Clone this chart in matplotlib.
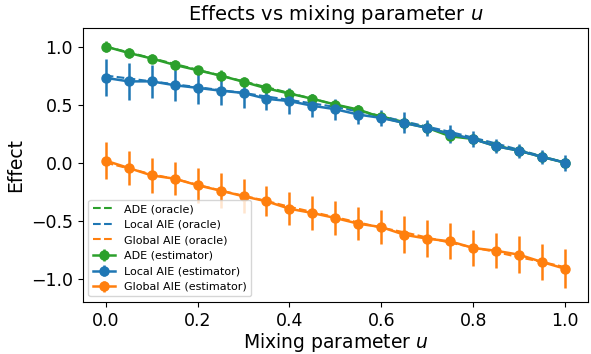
import numpy as np
import matplotlib
matplotlib.use('Agg')
import matplotlib.pyplot as plt

# Mixing parameter grid
u = [0.00, 0.05, 0.10, 0.15, 0.20, 0.25, 0.30, 0.35, 0.40, 0.45, 0.50,
     0.55, 0.60, 0.65, 0.70, 0.75, 0.80, 0.85, 0.90, 0.95, 1.00]

# Oracle curves (dashed)
ade_oracle = [1.00, 0.95, 0.90, 0.85, 0.80, 0.75, 0.70, 0.65, 0.60, 0.55, 0.50,
              0.45, 0.40, 0.35, 0.30, 0.25, 0.20, 0.15, 0.10, 0.05, 0.00]
local_oracle = [0.75, 0.725, 0.70, 0.675, 0.65, 0.625, 0.60, 0.57, 0.54, 0.51,
                0.48, 0.44, 0.40, 0.355, 0.31, 0.265, 0.215, 0.165, 0.11, 0.055,
                0.00]
global_oracle = [0.00, -0.05, -0.10, -0.14, -0.19, -0.24, -0.285, -0.33, -0.38,
                 -0.425, -0.47, -0.515, -0.56, -0.60, -0.645, -0.69, -0.73,
                 -0.77, -0.815, -0.855, -0.90]

# Estimators (mean +- error)
ade_est = [1.00, 0.945, 0.897, 0.842, 0.796, 0.75, 0.696, 0.64, 0.595, 0.55, 0.50,
           0.457, 0.39, 0.342, 0.30, 0.227, 0.204, 0.141, 0.103, 0.049, 0.00]
ade_err = [0.05, 0.04, 0.04, 0.04, 0.04, 0.05, 0.04, 0.04, 0.04, 0.04, 0.04,
           0.04, 0.04, 0.05, 0.05, 0.04, 0.04, 0.04, 0.04, 0.04, 0.04]
local_est = [0.73, 0.70, 0.70, 0.667, 0.644, 0.62, 0.60, 0.55, 0.53, 0.49, 0.46,
             0.414, 0.385, 0.342, 0.299, 0.247, 0.204, 0.141, 0.103, 0.049, 0.00]
local_err = [0.16, 0.16, 0.14, 0.135, 0.135, 0.125, 0.13, 0.10, 0.11, 0.10, 0.09,
             0.08, 0.07, 0.09, 0.07, 0.08, 0.07, 0.06, 0.06, 0.06, 0.07]
global_est = [0.017, -0.046, -0.11, -0.138, -0.195, -0.241, -0.29, -0.333, -0.397,
              -0.434, -0.477, -0.526, -0.555, -0.621, -0.655, -0.678, -0.735,
              -0.759, -0.793, -0.856, -0.914]
global_err = [0.16, 0.15, 0.15, 0.145, 0.15, 0.15, 0.145, 0.13, 0.14, 0.144, 0.144,
              0.14, 0.15, 0.16, 0.16, 0.155, 0.155, 0.15, 0.158, 0.158, 0.168]

fig = plt.figure(figsize=(5.91, 3.54), dpi=100)
ax = fig.add_axes([0.14, 0.147, 0.855, 0.774])

# Oracle lines
ax.plot(u, ade_oracle, '--', color='C2', lw=1.5, label='ADE (oracle)')
ax.plot(u, local_oracle, '--', color='C0', lw=1.5, label='Local AIE (oracle)')
ax.plot(u, global_oracle, '--', color='C1', lw=1.5, label='Global AIE (oracle)')

# Estimators with error bars
ax.errorbar(u, ade_est, yerr=ade_err, fmt='-o', color='C2', lw=1.8, ms=6.5,
            label='ADE (estimator)')
ax.errorbar(u, local_est, yerr=local_err, fmt='-o', color='C0', lw=1.8, ms=6.5,
            label='Local AIE (estimator)')
ax.errorbar(u, global_est, yerr=global_err, fmt='-o', color='C1', lw=1.8, ms=6.5,
            label='Global AIE (estimator)')

ax.set_ylim(-1.2, 1.16)
ax.set_title('Effects vs mixing parameter $u$', fontsize=14)
ax.set_xlabel('Mixing parameter $u$', fontsize=13.5, labelpad=1)
ax.set_ylabel('Effect', fontsize=13.5)
ax.tick_params(labelsize=12.5)
ax.legend(loc='lower left', fontsize=8)

fig.savefig('out.png', dpi=100)
